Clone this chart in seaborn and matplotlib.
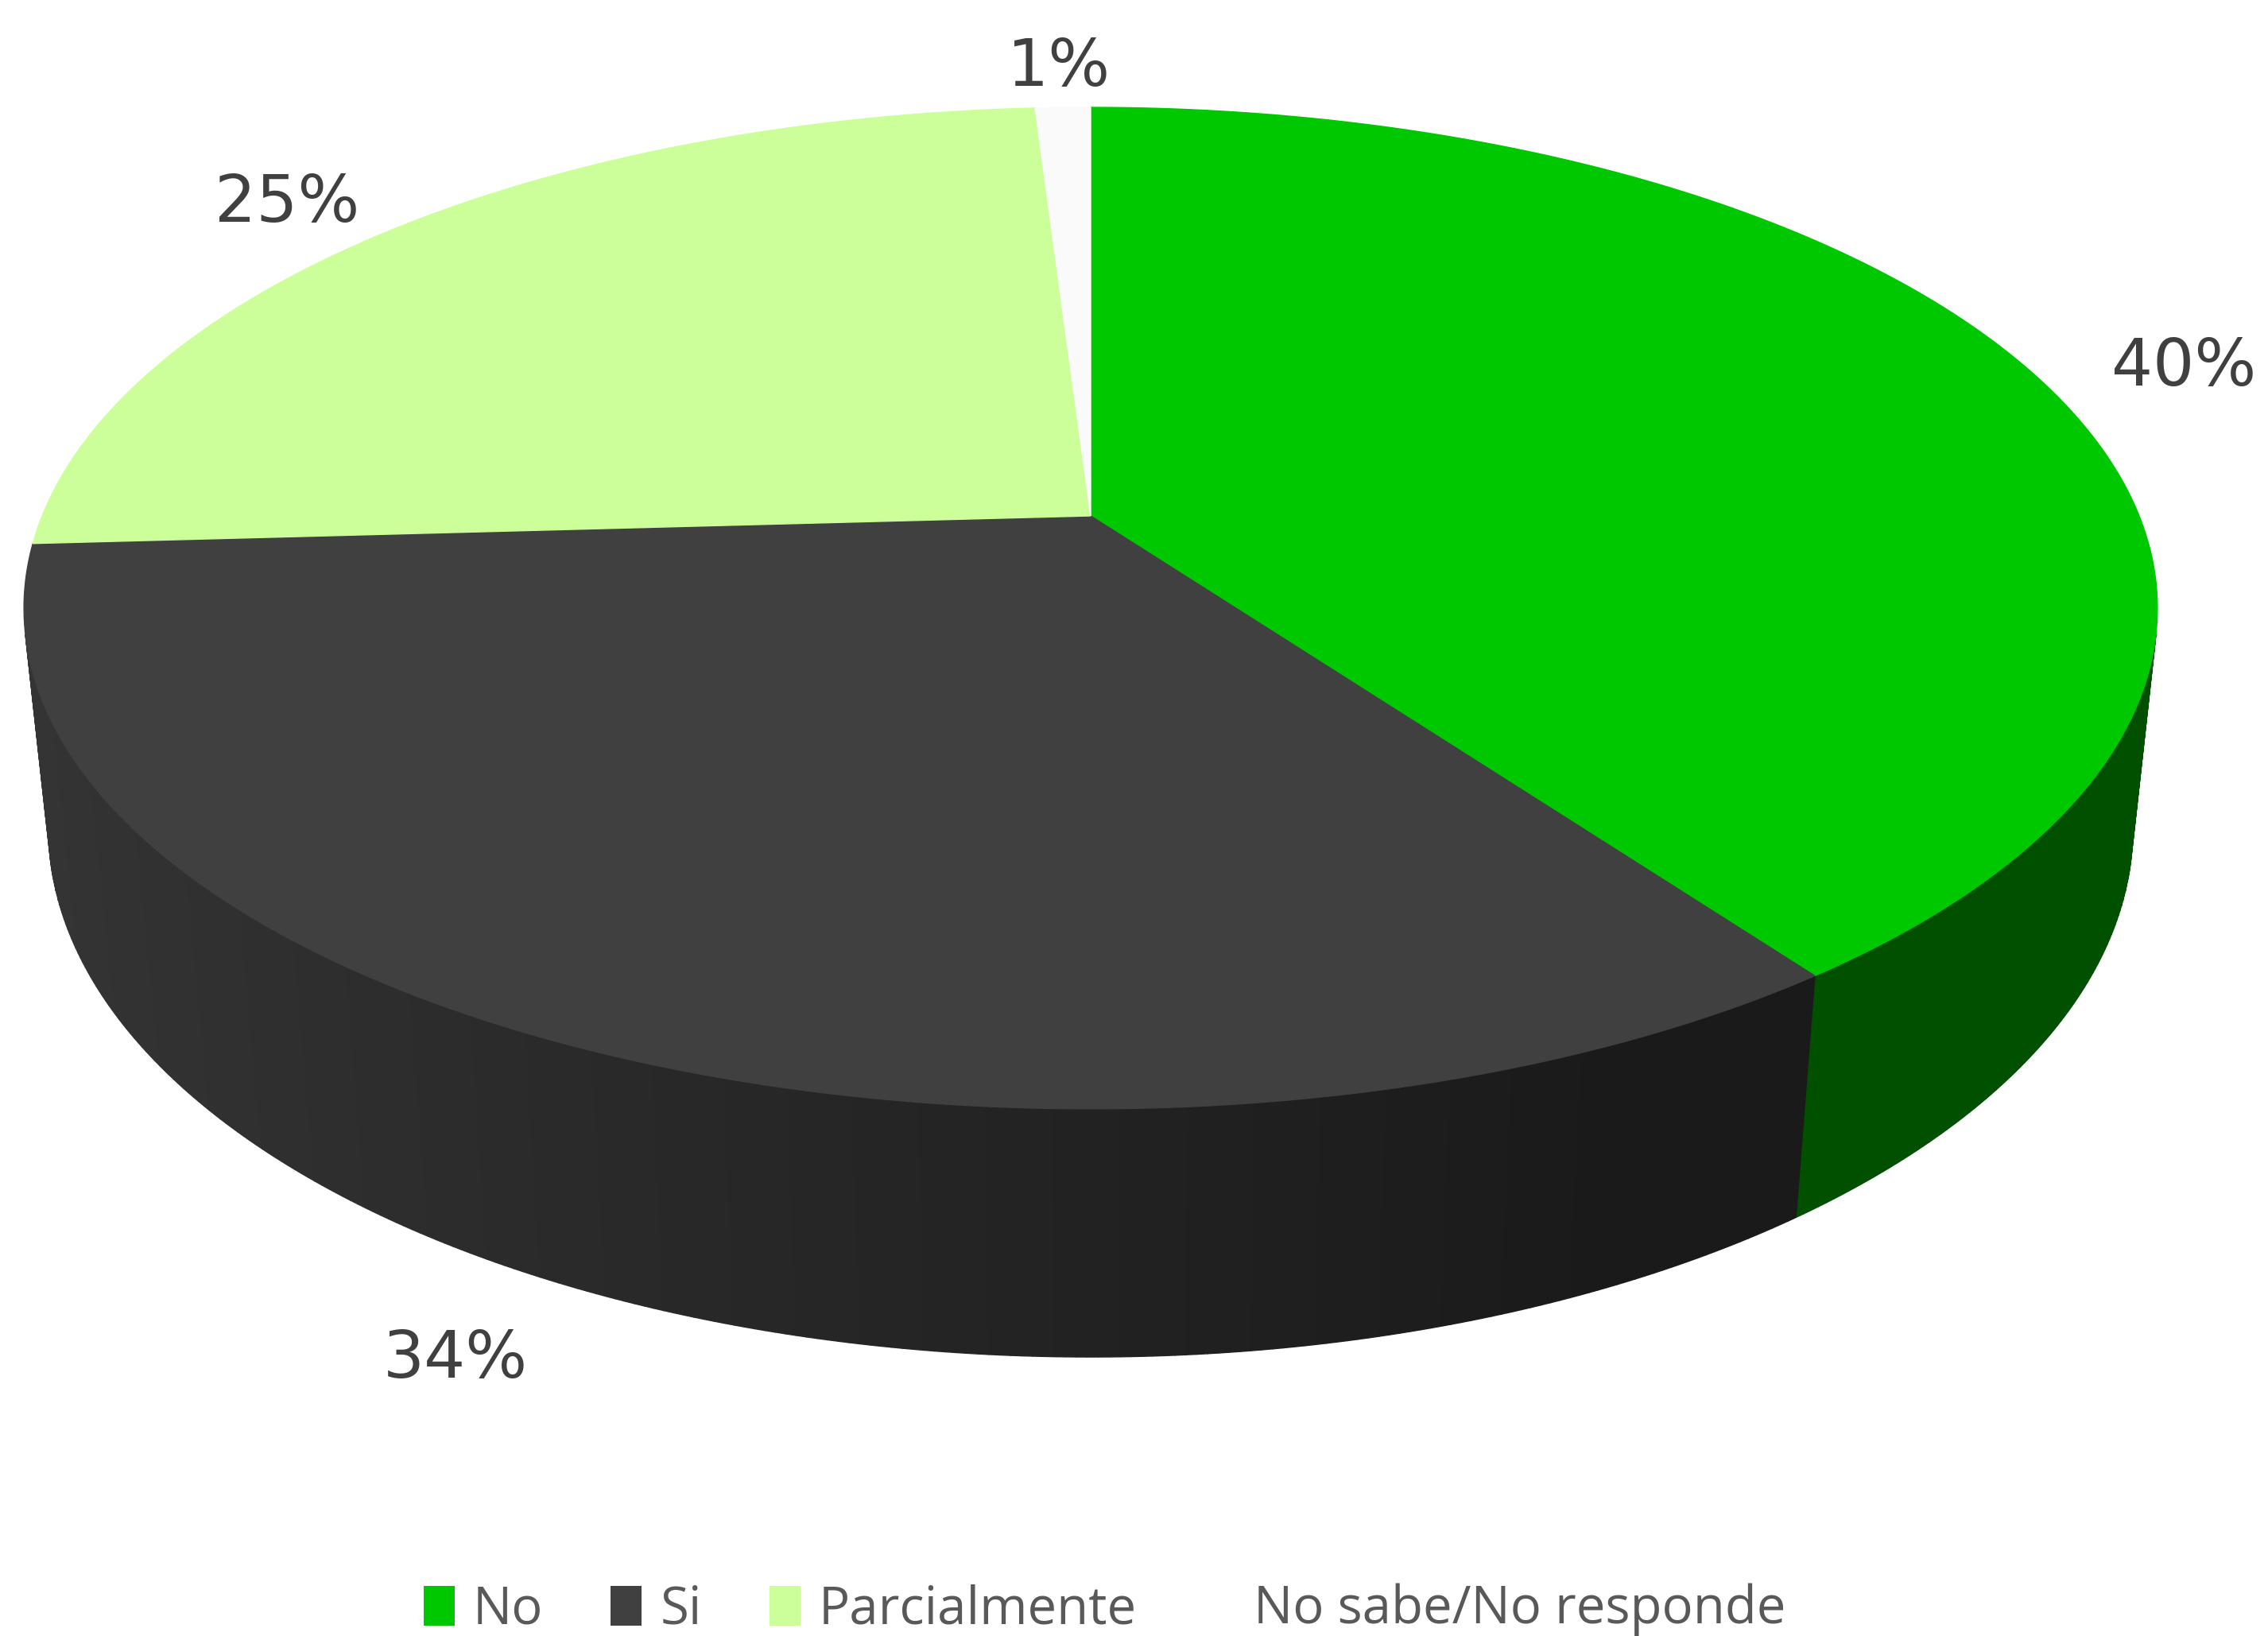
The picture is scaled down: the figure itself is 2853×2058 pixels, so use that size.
import numpy as np
import matplotlib
matplotlib.use("Agg")
import matplotlib.pyplot as plt
from matplotlib.patches import Polygon, Patch
import seaborn as sns

"""
data
"""
categories = ["No", "Si", "Parcialmente", "No sabe/No responde"]
values = [40.0, 34.1, 24.9, 1.0]
labels = ["40%", "34%", "25%", "1%"]
top_colors = ["#00C800", "#404040", "#CCFF99", "#FAFAFA"]
legend_colors = ["#00C800", "#404040", "#CCFF99", "#FFFFFF"]

sns.set_theme(style="white")
plt.rcParams['font.family'] = ['DejaVu Sans']

W, H = 2853, 2058
fig = plt.figure(figsize=(W / 100, H / 100), dpi=100)
ax = fig.add_axes([0, 0, 1, 1])
ax.set_xlim(0, W)
ax.set_ylim(H, 0)
ax.axis('off')

"""
perspective camera for the 3d pie
"""
cx, cy = 1372, 649
elev = np.arcsin(0.4614)
dist = 4.819
focal = 6356
thick = 0.2383


def project(X, Y, Z):
    d = dist - Y * np.sin(elev) + Z * np.cos(elev)
    up = Y * np.cos(elev) + Z * np.sin(elev)
    return cx + focal * X / d, cy - focal * up / d


def shade(rgb, x):
    f = np.clip(0.53 - 0.30 * x, 0.4, 1.0)
    return tuple(c * f for c in rgb)


fracs = np.array(values) / np.sum(values)
edges = 90 - 360 * np.concatenate([[0], np.cumsum(fracs)])

# wall faces visible to the camera
s0 = 1.0 / (dist * np.cos(elev))
vis_lo = -180 + np.degrees(np.arcsin(s0))
vis_hi = -np.degrees(np.arcsin(s0))

for i, col in enumerate(top_colors):
    a0, a1 = edges[i + 1], edges[i]
    lo, hi = max(a0, vis_lo), min(a1, vis_hi)
    if hi <= lo:
        continue
    rgb = matplotlib.colors.to_rgb(col)
    n = max(2, int((hi - lo) * 2))
    ts = np.radians(np.linspace(lo, hi, n + 1))
    for k in range(n):
        t1, t2 = ts[k], ts[k + 1]
        pts = [project(np.cos(t1), 0, np.sin(t1)), project(np.cos(t2), 0, np.sin(t2)),
               project(np.cos(t2), -thick, np.sin(t2)), project(np.cos(t1), -thick, np.sin(t1))]
        c = shade(rgb, np.cos((t1 + t2) / 2))
        ax.add_patch(Polygon(pts, closed=True, facecolor=c, edgecolor=c, lw=1))

# top faces
for i, col in enumerate(top_colors):
    ts = np.radians(np.linspace(edges[i], edges[i + 1], 200))
    pts = [project(0, 0, 0)] + [project(np.cos(t), 0, np.sin(t)) for t in ts]
    ax.add_patch(Polygon(pts, closed=True, facecolor=col, edgecolor=col, lw=1))

# data labels
for i, lab in enumerate(labels):
    mid = np.radians((edges[i] + edges[i + 1]) / 2)
    r = 1.16
    y3 = -0.8 * thick if np.sin(mid) < 0 else 0
    px, py = project(r * np.cos(mid), y3, r * np.sin(mid))
    ax.annotate(lab, (px, py), xytext=(8 * np.cos(mid), -13), textcoords='offset points',
                ha='center', va='center', fontsize=59, color='#404040')

handles = [Patch(facecolor=c, edgecolor='none') for c in legend_colors]
fig.legend(handles, categories, loc='center', bbox_to_anchor=(0.487, 0.016), ncol=4,
           frameon=False, prop={'family': 'Open Sans', 'size': 47},
           handlelength=0.6, handleheight=0.8, handletextpad=0.35,
           columnspacing=1.3, labelcolor='#595959')

fig.savefig('out.png', dpi=100)
